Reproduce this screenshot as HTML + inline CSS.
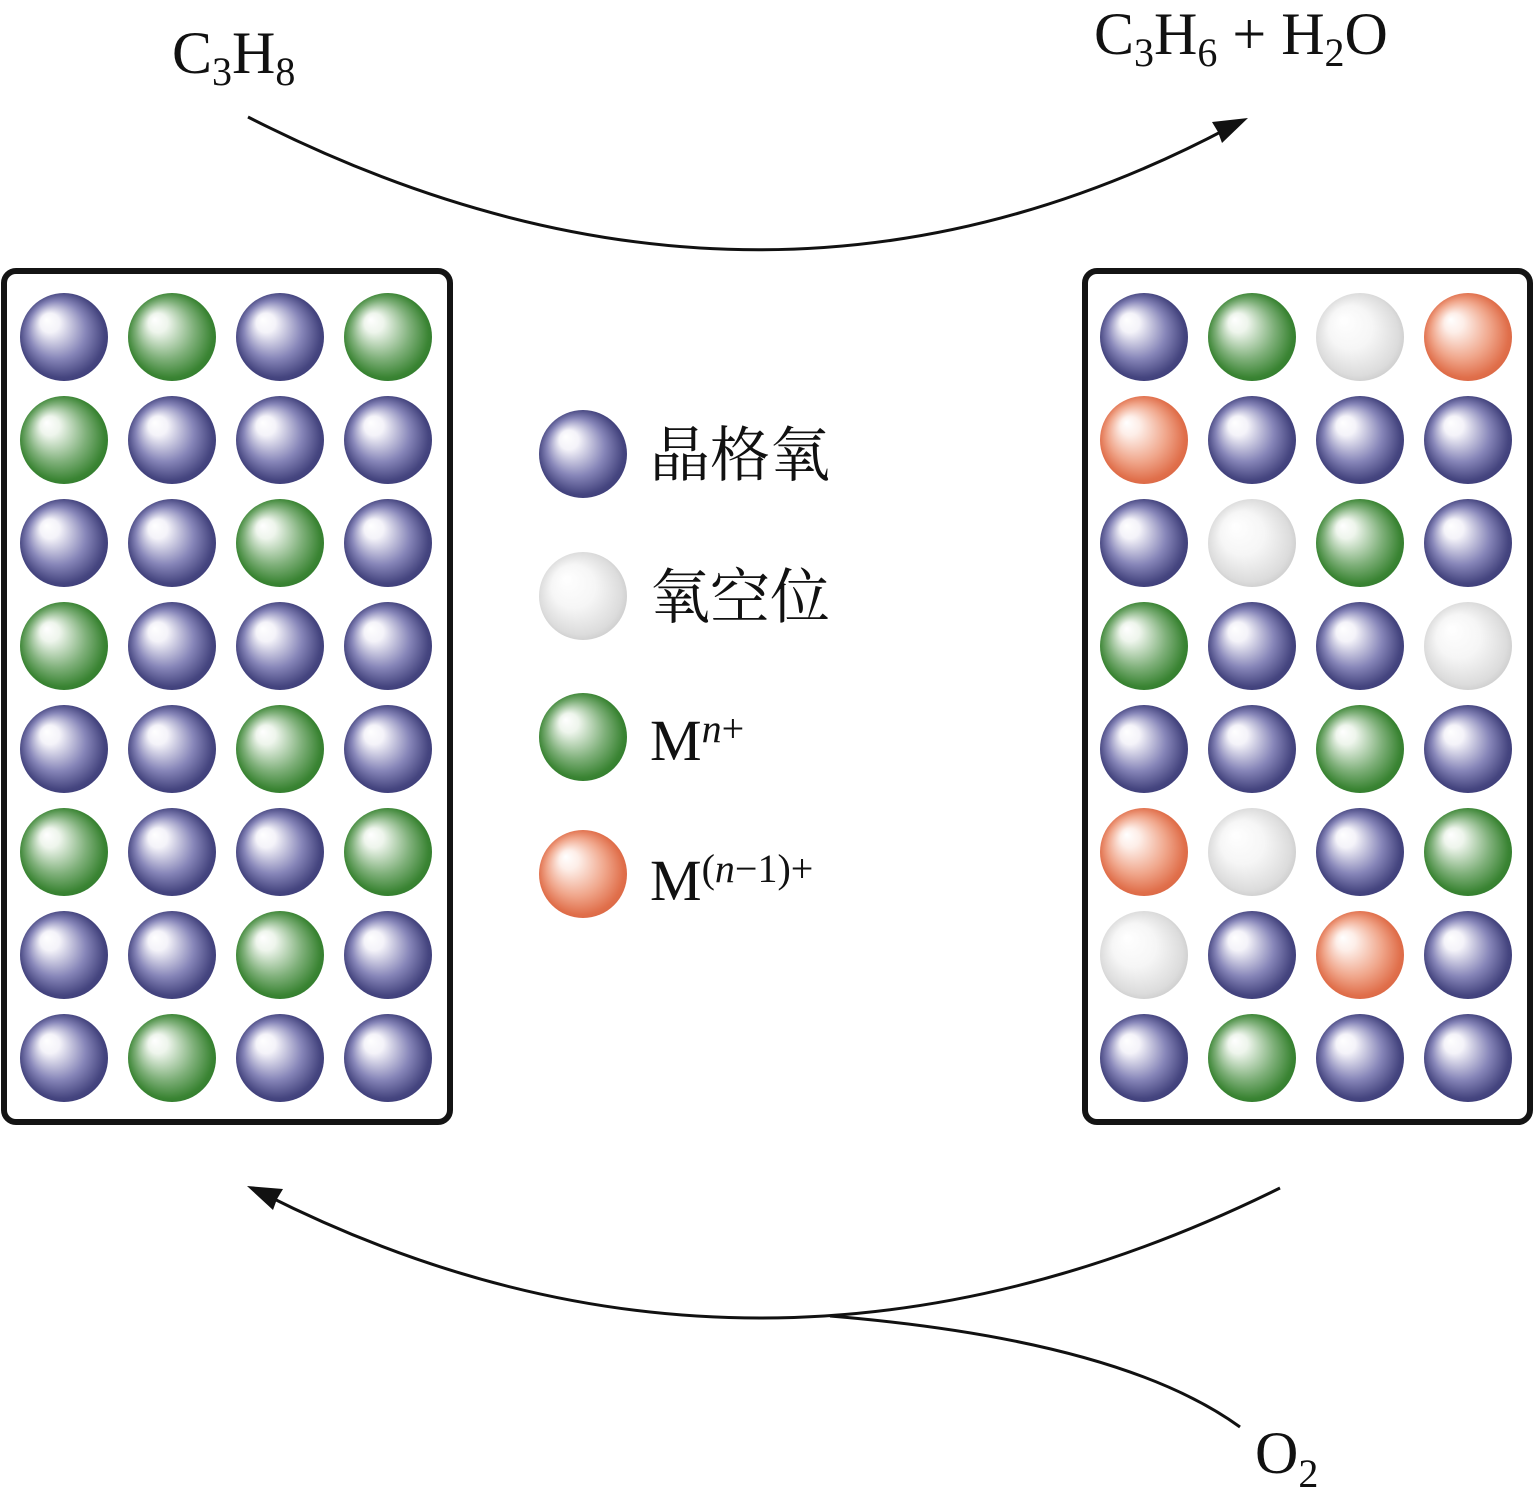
<!DOCTYPE html>
<html><head><meta charset="utf-8"><style>
html,body{margin:0;padding:0;background:#fff;}
svg{display:block;}
text{font-family:"Liberation Serif","Noto Serif CJK SC",serif;fill:#111;}
</style></head><body>
<svg width="1535" height="1511" viewBox="0 0 1535 1511" xmlns="http://www.w3.org/2000/svg">
<defs>
<radialGradient id="gB" cx="0.5" cy="0.5" r="0.55" fx="0.3" fy="0.3"><stop offset="0" stop-color="#fff"/><stop offset="0.2" stop-color="#f4f3f9"/><stop offset="0.6" stop-color="#8685b8"/><stop offset="0.88" stop-color="#45457f"/><stop offset="1" stop-color="#3b3b78"/></radialGradient>
<radialGradient id="gG" cx="0.5" cy="0.5" r="0.55" fx="0.3" fy="0.3"><stop offset="0" stop-color="#fff"/><stop offset="0.2" stop-color="#eef5ec"/><stop offset="0.6" stop-color="#7fb07a"/><stop offset="0.88" stop-color="#3a8433"/><stop offset="1" stop-color="#2f7a2c"/></radialGradient>
<radialGradient id="gW" cx="0.5" cy="0.5" r="0.55" fx="0.3" fy="0.3"><stop offset="0" stop-color="#fff"/><stop offset="0.45" stop-color="#f6f6f6"/><stop offset="0.85" stop-color="#dcdcdc"/><stop offset="1" stop-color="#c8c8c8"/></radialGradient>
<radialGradient id="gO" cx="0.5" cy="0.5" r="0.55" fx="0.3" fy="0.3"><stop offset="0" stop-color="#fff"/><stop offset="0.2" stop-color="#fdeee8"/><stop offset="0.6" stop-color="#f0a68b"/><stop offset="0.88" stop-color="#e06f4b"/><stop offset="1" stop-color="#d96644"/></radialGradient>
<circle id="B" r="44" fill="url(#gB)"/>
<circle id="G" r="44" fill="url(#gG)"/>
<circle id="W" r="44" fill="url(#gW)"/>
<circle id="O" r="44" fill="url(#gO)"/>
</defs>

<rect x="4" y="271" width="446" height="851" rx="12" fill="none" stroke="#141414" stroke-width="6"/>
<rect x="1085" y="271" width="445" height="851" rx="12" fill="none" stroke="#141414" stroke-width="6"/>

<g>
<use href="#B" x="64" y="337"/><use href="#G" x="172" y="337"/><use href="#B" x="280" y="337"/><use href="#G" x="388" y="337"/>
<use href="#G" x="64" y="440"/><use href="#B" x="172" y="440"/><use href="#B" x="280" y="440"/><use href="#B" x="388" y="440"/>
<use href="#B" x="64" y="543"/><use href="#B" x="172" y="543"/><use href="#G" x="280" y="543"/><use href="#B" x="388" y="543"/>
<use href="#G" x="64" y="646"/><use href="#B" x="172" y="646"/><use href="#B" x="280" y="646"/><use href="#B" x="388" y="646"/>
<use href="#B" x="64" y="749"/><use href="#B" x="172" y="749"/><use href="#G" x="280" y="749"/><use href="#B" x="388" y="749"/>
<use href="#G" x="64" y="852"/><use href="#B" x="172" y="852"/><use href="#B" x="280" y="852"/><use href="#G" x="388" y="852"/>
<use href="#B" x="64" y="955"/><use href="#B" x="172" y="955"/><use href="#G" x="280" y="955"/><use href="#B" x="388" y="955"/>
<use href="#B" x="64" y="1058"/><use href="#G" x="172" y="1058"/><use href="#B" x="280" y="1058"/><use href="#B" x="388" y="1058"/>
</g>
<g>
<use href="#B" x="1144" y="337"/><use href="#G" x="1252" y="337"/><use href="#W" x="1360" y="337"/><use href="#O" x="1468" y="337"/>
<use href="#O" x="1144" y="440"/><use href="#B" x="1252" y="440"/><use href="#B" x="1360" y="440"/><use href="#B" x="1468" y="440"/>
<use href="#B" x="1144" y="543"/><use href="#W" x="1252" y="543"/><use href="#G" x="1360" y="543"/><use href="#B" x="1468" y="543"/>
<use href="#G" x="1144" y="646"/><use href="#B" x="1252" y="646"/><use href="#B" x="1360" y="646"/><use href="#W" x="1468" y="646"/>
<use href="#B" x="1144" y="749"/><use href="#B" x="1252" y="749"/><use href="#G" x="1360" y="749"/><use href="#B" x="1468" y="749"/>
<use href="#O" x="1144" y="852"/><use href="#W" x="1252" y="852"/><use href="#B" x="1360" y="852"/><use href="#G" x="1468" y="852"/>
<use href="#W" x="1144" y="955"/><use href="#B" x="1252" y="955"/><use href="#O" x="1360" y="955"/><use href="#B" x="1468" y="955"/>
<use href="#B" x="1144" y="1058"/><use href="#G" x="1252" y="1058"/><use href="#B" x="1360" y="1058"/><use href="#B" x="1468" y="1058"/>
</g>

<use href="#B" x="583" y="454"/>
<use href="#W" x="583" y="596"/>
<use href="#G" x="583" y="737"/>
<use href="#O" x="583" y="874"/>
<text x="650" y="476" font-size="60" font-family="'Noto Serif CJK SC',serif">晶格氧</text>
<text x="650" y="618" font-size="60" font-family="'Noto Serif CJK SC',serif">氧空位</text>
<text x="650" y="760" font-size="58">M<tspan font-style="italic" font-size="40" dy="-18">n</tspan><tspan font-size="40">+</tspan></text>
<text x="650" y="900" font-size="58">M<tspan font-size="40" dy="-18">(</tspan><tspan font-size="40" font-style="italic">n</tspan><tspan font-size="40">−1)+</tspan></text>

<text x="172" y="73" font-size="60">C<tspan font-size="40" dy="12">3</tspan><tspan dy="-12">H</tspan><tspan font-size="40" dy="12">8</tspan></text>
<text x="1094" y="54" font-size="60">C<tspan font-size="40" dy="12">3</tspan><tspan dy="-12">H</tspan><tspan font-size="40" dy="12">6</tspan><tspan dy="-12"> + H</tspan><tspan font-size="40" dy="12">2</tspan><tspan dy="-12">O</tspan></text>
<text x="1255" y="1473" font-size="60">O<tspan font-size="40" dy="14">2</tspan></text>

<path d="M248,117 Q760,378 1232,126" fill="none" stroke="#111" stroke-width="3"/>
<path d="M1248,118 L1212,122 L1218,132 L1222,143 Z" fill="#111"/>
<path d="M1280,1188 Q760,1445 264,1194" fill="none" stroke="#111" stroke-width="3"/>
<path d="M247,1186 L283,1189 L277,1199 L273,1210 Z" fill="#111"/>
<path d="M1240,1427 Q1120,1340 830,1316" fill="none" stroke="#111" stroke-width="3"/>
</svg>
</body></html>
